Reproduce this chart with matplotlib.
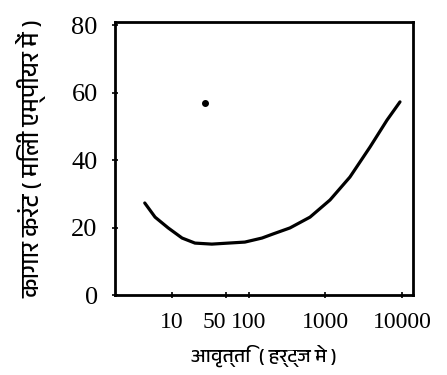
import numpy as np
import matplotlib
matplotlib.use('Agg')
import matplotlib.pyplot as plt
from matplotlib import font_manager

# आवृत्ति (Hz) और करंट (mA) - चित्र से पढ़े गए मान
freq = [4.4, 6.0, 8.9, 13.5, 19.9, 33, 54, 89, 149, 207, 345, 630, 1150, 2090, 3820, 6370, 9400]
current = [27.3, 23.1, 19.9, 16.9, 15.4, 15.1, 15.4, 15.7, 16.9, 18.1, 19.9, 23.1, 28.2, 35.0, 43.9, 51.9, 57.3]
dot_x = [27]
dot_y = [57]

x_ticks = [10, 50, 100, 1000, 10000]
y_ticks = [0, 20, 40, 60, 80]

# Devanagari फ़ॉन्ट खोजें
deva = []
for f in font_manager.fontManager.ttflist:
    if 'Devanagari' in f.name or 'Lohit' in f.name or 'Mangal' in f.name:
        deva.append(f.name)
fams = list(dict.fromkeys(deva)) + ['DejaVu Sans']

fig = plt.figure(figsize=(4.47, 3.75), dpi=100)
ax = fig.add_axes([115/447, 1 - 295/375, (413-115)/447, (295-22)/375])

ax.plot(freq, current, color='black', lw=2.3, solid_joinstyle='round', solid_capstyle='round')
ax.plot(dot_x, dot_y, marker='o', color='black', ms=4, ls='none')

ax.set_xscale('log')
ax.set_xlim(1.8, 13900)
ax.set_ylim(0, 81)
ax.set_xticks(x_ticks)
ax.set_xticklabels([str(t) for t in x_ticks])
ax.minorticks_off()
ax.set_yticks(y_ticks)
for lab in ax.get_xticklabels():
    lab.set_fontfamily('Liberation Serif')
    lab.set_fontsize(17)
for lab in ax.get_yticklabels():
    lab.set_fontfamily('Liberation Serif')
    lab.set_fontsize(19)
# 50 और 100 आपस में न टकराएँ
ax.get_xticklabels()[1].set_horizontalalignment('right')
ax.tick_params(direction='inout', length=5, width=1.2, pad=10)
for s in ax.spines.values():
    s.set_linewidth(2)

ax.set_xlabel('आवृत्ति  ( हर्ट्ज मे )', family=fams, fontsize=14, fontweight='bold', labelpad=8)
ax.set_ylabel('कागार करंट ( मिली एम्पीयर में )', family=fams, fontsize=17.5, fontweight='bold', labelpad=18)

fig.savefig('out.png', dpi=100)
